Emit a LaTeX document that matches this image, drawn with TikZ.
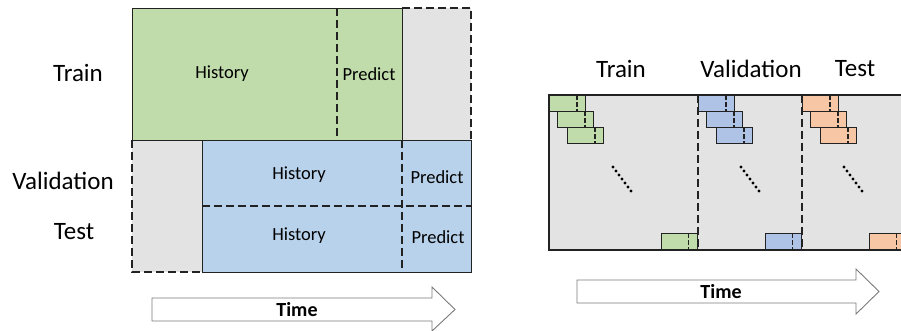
\documentclass[tikz,border=0pt]{standalone}
\usepackage{fontspec}
\setmainfont{Carlito}
\usepackage{xcolor}
\definecolor{traingreen}{HTML}{C1DCAB}
\definecolor{evalblue}{HTML}{B8D2EC}
\definecolor{splitblue}{HTML}{AEC3E6}
\definecolor{testorange}{HTML}{F7C7A5}
\definecolor{slotgray}{HTML}{E4E3E4}
\definecolor{linedark}{HTML}{222222}
\definecolor{arrowgray}{HTML}{7A7A7A}

\begin{document}
\begin{tikzpicture}[x=1pt,y=-1pt,line width=1.2pt,
  blk/.style={draw=linedark, inner sep=0pt, anchor=north west},
  winbox/.style={draw=linedark, inner sep=0pt, anchor=north west,
    minimum width=36pt, minimum height=16pt},
  cut/.style={draw=linedark, dash pattern=on 8pt off 4pt},
  smallcut/.style={draw=linedark, line width=1.3pt, dash pattern=on 5pt off 2pt},
  lbl/.style={font=\fontsize{25}{28}\selectfont},
  inlbl/.style={font=\fontsize{18.5}{20}\selectfont},
  timearrow/.style={draw=arrowgray, fill=white, line width=0.9pt},
  timelbl/.style={font=\fontsize{20}{22}\selectfont\bfseries}
]
\useasboundingbox (0,0) rectangle (901,331);

% left panel: fixed split
\fill[slotgray] (402,8) rectangle (471,140);
\fill[slotgray] (132,140) rectangle (202,272);
\node[blk, fill=traingreen, minimum width=270pt, minimum height=132pt] (trainblk) at (132,8) {};
\node[blk, fill=evalblue, minimum width=269pt, minimum height=132pt] (evalblk) at (202,140) {};
\draw[cut] (402,8) -- (471,8) -- (471,140);
\draw[cut] (132,140) -- (132,272) -- (202,272);
\draw[cut] (337,8) -- (337,140);
\draw[cut] (402,140) -- (402,272);
\draw[cut] (202,206) -- (471,206);

\node[inlbl] (trainhist) at (222,74) {History};
\node[inlbl] (trainpred) at (369,74) {Predict};
\node[inlbl] (valhist) at (299,175) {History};
\node[inlbl] (valpred) at (437,177) {Predict};
\node[inlbl] (testhist) at (299,236) {History};
\node[inlbl] (testpred) at (438,237) {Predict};

\node[lbl] (trainlbl) at (78,73) {Train};
\node[lbl] (vallbl) at (63,181) {Validation};
\node[lbl] (testlbl) at (74,232) {Test};

\draw[timearrow] (152,298) -- (432,298) -- (432,287) -- (455,309.5)
  -- (432,331) -- (432,321) -- (152,321) -- cycle;
\node[timelbl] (timeleft) at (297,310) {Time};

% right panel: rolling windows
\fill[slotgray] (549,95) rectangle (906,250);
\draw[linedark] (906,95) -- (549,95) -- (549,250) -- (906,250);
\draw[cut] (698,95) -- (698,250);
\draw[cut] (802,95) -- (802,250);

\foreach \sx/\ex/\col/\nm/\ds in {549/698/traingreen/g/64, 698/802/splitblue/b/43, 802/906/testorange/o/42} {
  \foreach \dx/\dy [count=\i] in {0/95, 8/111, 18/127} {
    \node[winbox, fill=\col] (\nm\i) at (\sx+\dx,\dy) {};
    \draw[smallcut] ([xshift=28pt]\nm\i.north west) -- ([xshift=28pt]\nm\i.south west);
  }
  \node[winbox, fill=\col, anchor=south east] (\nm last) at (\ex,250) {};
  \draw[smallcut] ([xshift=28pt]\nm last.north west) -- ([xshift=28pt]\nm last.south west);
  \foreach \k in {0,...,6}
    \fill[black] (\sx+\ds+3*\k, 167+4*\k) circle (1.7pt);
}

\node[lbl] (trainhead) at (621,69) {Train};
\node[lbl] (valhead) at (751,69) {Validation};
\node[lbl] (testhead) at (855,69) {Test};

\draw[timearrow] (577,280) -- (856,280) -- (856,269) -- (879,291.5)
  -- (856,314) -- (856,303) -- (577,303) -- cycle;
\node[timelbl] (timeright) at (721,292) {Time};
\end{tikzpicture}
\end{document}
